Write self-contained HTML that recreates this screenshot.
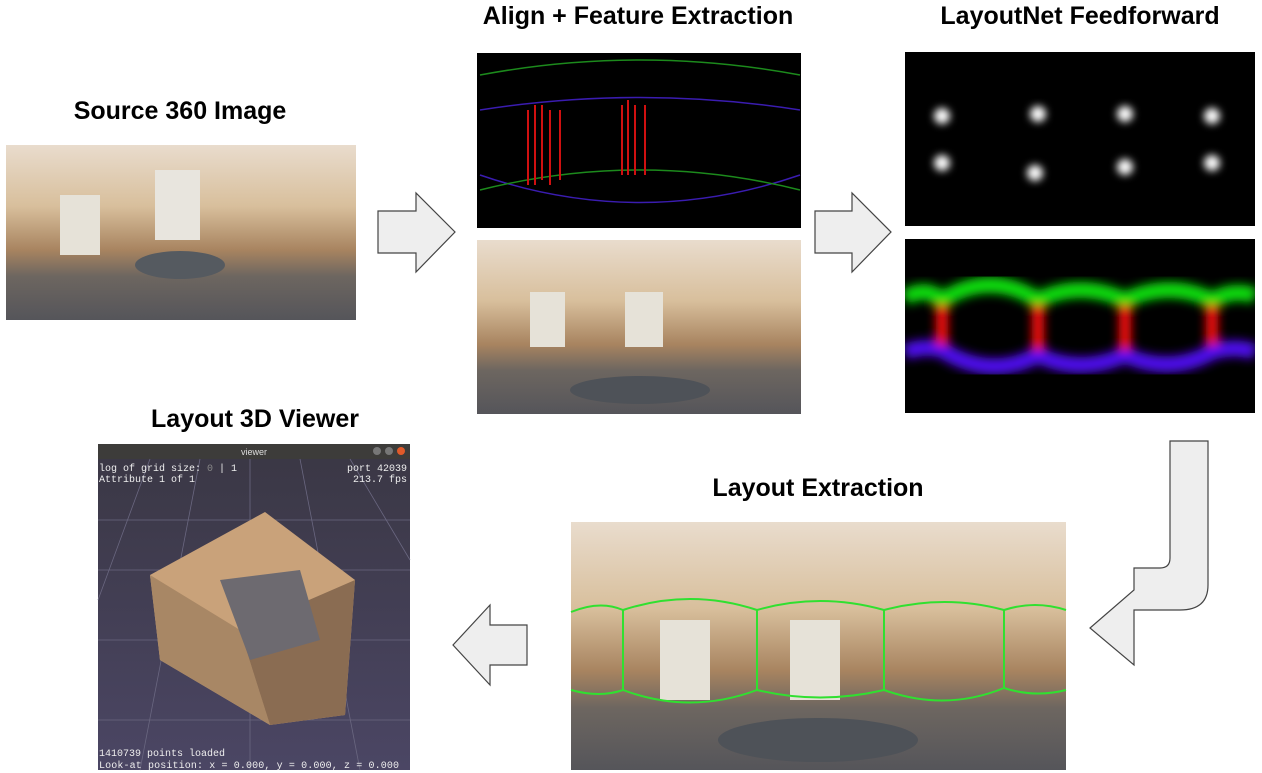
<!DOCTYPE html>
<html><head><meta charset="utf-8"><style>
body{margin:0;width:1262px;height:773px;background:#fff;overflow:hidden;font-family:"Liberation Sans",sans-serif}
.t{position:absolute;font-weight:bold;font-size:25px;color:#000;white-space:nowrap;transform:translateX(-50%)}
</style></head><body>
<svg width="1262" height="773" style="position:absolute;left:0;top:0">
<defs>
<linearGradient id="room" x1="0" y1="0" x2="0" y2="1">
<stop offset="0" stop-color="#e9dccd"/><stop offset="0.35" stop-color="#d8bf9c"/><stop offset="0.6" stop-color="#a88460"/><stop offset="0.75" stop-color="#6d6660"/><stop offset="1" stop-color="#55555a"/></linearGradient>
<linearGradient id="grid" x1="0" y1="0" x2="0" y2="1"><stop offset="0" stop-color="#3a3744"/><stop offset="1" stop-color="#4b4664"/></linearGradient>
<filter id="bl"><feGaussianBlur stdDeviation="5"/></filter>
<filter id="bl2"><feGaussianBlur stdDeviation="4"/></filter>
</defs>
<rect x="6" y="145" width="350" height="175" fill="url(#room)"/>
<rect x="60" y="195" width="40" height="60" fill="#e6e2d8"/><rect x="155" y="170" width="45" height="70" fill="#e8e5de"/>
<ellipse cx="180" cy="265" rx="45" ry="14" fill="#555a60"/>
<path d="M378 211 H416 V193 L455 232 L416 272 V253 H378 Z" fill="#eee" stroke="#444" stroke-width="1.2"/>
<path d="M815 211 H852 V193 L891 232 L852 272 V253 H815 Z" fill="#eee" stroke="#444" stroke-width="1.2"/>
<rect x="477" y="53" width="324" height="175" fill="#000"/>
<g stroke-width="1.5" fill="none">
<path d="M480 75 Q640 45 800 75" stroke="#1c8a1c"/><path d="M480 175 Q640 230 800 175" stroke="#3a1cb0"/>
<path d="M480 190 Q640 150 800 190" stroke="#1c8a1c"/><path d="M480 110 Q640 85 800 110" stroke="#3a1cb0"/>
</g>
<g stroke="#d01010" stroke-width="2">
<path d="M528 110V185M535 105V185M542 105V180M550 110V185M560 110V180M622 105V175M628 100V175M635 105V175M645 105V175"/>
</g>
<rect x="477" y="240" width="324" height="174" fill="url(#room)"/>
<rect x="530" y="292" width="35" height="55" fill="#e6e2d8"/><rect x="625" y="292" width="38" height="55" fill="#e6e2d8"/>
<ellipse cx="640" cy="390" rx="70" ry="14" fill="#4e5258"/>
<rect x="905" y="52" width="350" height="174" fill="#000"/>
<g fill="#fff" filter="url(#bl2)">
<circle cx="942" cy="116" r="8"/><circle cx="1038" cy="114" r="8"/><circle cx="1125" cy="114" r="8"/><circle cx="1212" cy="116" r="8"/>
<circle cx="942" cy="163" r="8"/><circle cx="1035" cy="173" r="8"/><circle cx="1125" cy="167" r="8"/><circle cx="1212" cy="163" r="8"/>
</g>
<rect x="905" y="239" width="350" height="174" fill="#000"/>
<svg x="905" y="239" width="350" height="174" overflow="hidden">
<g fill="none" filter="url(#bl)" stroke-width="16" transform="translate(-905,-239)">
<path d="M905 298 Q925 285 942 300 Q990 270 1038 300 Q1080 280 1125 300 Q1170 280 1212 300 Q1235 288 1255 296" stroke="#10e010"/>
<path d="M905 352 Q925 345 942 350 Q990 380 1038 355 Q1080 375 1125 355 Q1170 375 1212 352 Q1235 345 1255 352" stroke="#5010f0"/>
<path d="M942 305V345M1038 305V350M1125 305V350M1212 305V345" stroke="#ff1010" stroke-width="12"/>
</g></svg>
<path d="M1170 441 H1208 V585 Q1208 610 1180 610 H1134 V665 L1090 628 L1134 590 V568 H1160 Q1170 568 1170 558 Z" fill="#eee" stroke="#444" stroke-width="1.2"/>
<rect x="571" y="522" width="495" height="248" fill="url(#room)"/>
<rect x="660" y="620" width="50" height="80" fill="#e6e2d8"/><rect x="790" y="620" width="50" height="80" fill="#e6e2d8"/>
<ellipse cx="818" cy="740" rx="100" ry="22" fill="#4e5258"/>
<g fill="none" stroke="#30e030" stroke-width="2">
<path d="M571 612 Q600 600 623 610 Q690 588 757 610 Q820 592 884 610 Q945 594 1004 610 Q1035 600 1066 610"/>
<path d="M571 690 Q600 698 623 690 Q690 715 757 690 Q820 705 884 690 Q945 712 1004 688 Q1035 698 1066 690"/>
<path d="M623 610V690M757 610V690M884 610V690M1004 610V688"/>
</g>
<path d="M527 625 H490 V605 L453 645 L490 685 V665 H527 Z" fill="#eee" stroke="#444" stroke-width="1.2"/>
<rect x="98" y="444" width="312" height="326" fill="url(#grid)"/>
<rect x="98" y="444" width="312" height="15" fill="#3d3c3a"/>
<circle cx="377" cy="451" r="4" fill="#777"/><circle cx="389" cy="451" r="4" fill="#777"/><circle cx="401" cy="451" r="4" fill="#e05a2a"/>
<g stroke="#6a6780" stroke-width="0.8">
<path d="M98 520 H410M98 570 H410M98 640 H410M98 720 H410M150 459 L98 600M250 459 V770M350 459 L410 560M200 459 L140 770M300 459 L360 770"/>
</g>
<path d="M150 575 L265 512 L355 580 L345 715 L270 725 L160 660 Z" fill="#c9a27a"/>
<path d="M150 575 L240 630 L270 725 L160 660 Z" fill="#a88765"/>
<path d="M240 630 L355 580 L345 715 L270 725 Z" fill="#8a6c52"/>
<path d="M220 580 L300 570 L320 640 L250 660 Z" fill="#6d6a70"/>
<text x="254" y="455" font-size="9" fill="#ddd" text-anchor="middle" font-family="Liberation Sans">viewer</text>
<g font-family="Liberation Mono" font-size="10" fill="#eee">
<text x="99" y="471">log of grid size: <tspan fill="#888">0</tspan> | 1</text>
<text x="99" y="482">Attribute 1 of 1</text>
<text x="407" y="471" text-anchor="end">port 42039</text>
<text x="407" y="482" text-anchor="end">213.7 fps</text>
<text x="99" y="756">1410739 points loaded</text>
<text x="99" y="768" textLength="300">Look-at position: x = 0.000, y = 0.000, z = 0.000</text>
</g>
</svg>
<div class="t" style="left:180px;top:97px">Source 360 Image</div>
<div class="t" style="left:638px;top:2px">Align + Feature Extraction</div>
<div class="t" style="left:1080px;top:2px">LayoutNet Feedforward</div>
<div class="t" style="left:818px;top:474px">Layout Extraction</div>
<div class="t" style="left:255px;top:405px">Layout 3D Viewer</div>
</body></html>
